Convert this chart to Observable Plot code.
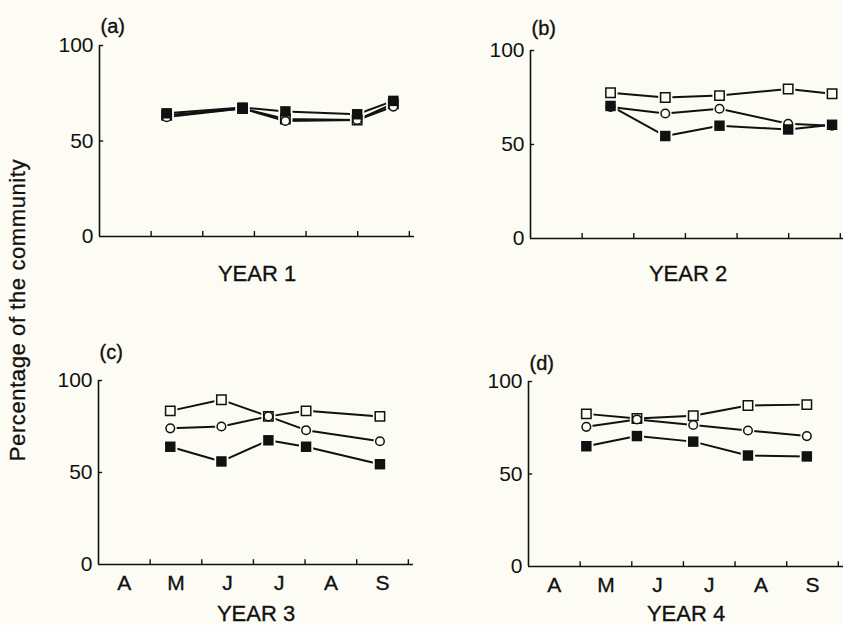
<!DOCTYPE html>
<html>
<head>
<meta charset="utf-8">
<script src="https://cdn.jsdelivr.net/npm/d3@7"></script>
<script src="https://cdn.jsdelivr.net/npm/@observablehq/plot@0.6"></script>
<style>
  html, body { margin: 0; padding: 0; background: #fcfcf4; }
  #fig { position: relative; width: 843px; height: 625px; overflow: hidden; background: #fcfcf4;
         font-family: "Liberation Sans", Arial, Helvetica, sans-serif; color: #111; }
  .panel { position: absolute; }
  #ylab { position: absolute; left: 18px; top: 310px; transform: translate(-50%, -50%) rotate(-90deg);
          white-space: nowrap; font-size: 22px; letter-spacing: 0.6px; -webkit-text-stroke: 0.3px #111; }
</style>
</head>
<body>
<div id="fig">
  <div id="ylab">Percentage of the community</div>
</div>
<script>
// ---- data ----
const months = ["A", "M", "J", "J", "A", "S"];
const monthTicks = [1, 2, 3, 4, 5, 6];
const yTicks = [0, 50, 100];
const panelLetters = ["(a)", "(b)", "(c)", "(d)"];
const yearLabels = ["YEAR 1", "YEAR 2", "YEAR 3", "YEAR 4"];

// sampling dates, in months after 1 April
const dates1 = [1.30, 2.77, 3.60, 4.99, 5.69];
const dates2 = [1.55, 2.61, 3.66, 4.99, 5.84];
const dates3 = [1.39, 2.38, 3.29, 4.02, 5.45];
const dates4 = [1.12, 2.10, 3.19, 4.25, 5.39];

// open squares
const open1 = [63.5, 67, 61.5, 61, 69.5];
const open2 = [77.5, 75, 76, 79.5, 77];
const open3 = [83.5, 89.5, 80.5, 83.5, 80.5];
const open4 = [82.5, 80, 81.5, 87, 87.5];
// open circles
const circ1 = [62.5, 67, 60.5, 61, 68];
const circ2 = [70, 66.5, 69, 61, 60];
const circ3 = [74, 75, 80.5, 73, 67];
const circ4 = [75.5, 79.5, 76.5, 73.5, 70.5];
// filled squares
const fill1 = [64.5, 67.5, 65.5, 64, 71];
const fill2 = [70.5, 54.5, 60, 58, 60.5];
const fill3 = [64, 56, 67.5, 64, 54.5];
const fill4 = [65, 70.5, 67.5, 60, 59.5];

const BG = "#fcfcf4";
const INK = "#111";
const FONT = "'Liberation Sans', Arial, Helvetica, sans-serif";
const TS = 0.35; // text thickening stroke

const panels = [
  {left: 0,   top: 0,   ml: 99, mt: 45, y0: 236, h: 300, dates: dates1, open: open1, circ: circ1, fill: fill1, months: false, letterDy: -19, yearDy: 37},
  {left: 431, top: 0,   ml: 99, mt: 50, y0: 238, h: 300, dates: dates2, open: open2, circ: circ2, fill: fill2, months: false, letterDy: -22, yearDy: 35},
  {left: 0,   top: 300, ml: 98, mt: 80, y0: 264, h: 325, dates: dates3, open: open3, circ: circ3, fill: fill3, months: true,  letterDy: -28, yearDy: 49},
  {left: 431, top: 300, ml: 97, mt: 81, y0: 266, h: 325, dates: dates4, open: open4, circ: circ4, fill: fill4, months: true,  letterDy: -18, yearDy: 47}
];

const fig = document.getElementById("fig");

panels.forEach((p, k) => {
  const rows = [];
  p.dates.forEach((d, i) => {
    rows.push({x: d, v: p.open[i], s: "open"});
    rows.push({x: d, v: p.circ[i], s: "circ"});
    rows.push({x: d, v: p.fill[i], s: "fill"});
  });
  const sq = rows.filter(r => r.s !== "circ");
  const ci = rows.filter(r => r.s === "circ");
  const W = 424;
  const mb = p.h - p.y0;
  const txt = {fill: INK, stroke: INK, strokeWidth: TS};
  const marks = [
    Plot.ruleY([0], {stroke: INK, strokeWidth: 1.6}),
    Plot.ruleX([0], {stroke: INK, strokeWidth: 1.6}),
    Plot.ruleX(monthTicks, {y1: 0, y2: 2.6, stroke: INK, strokeWidth: 1.4}),
    Plot.ruleY([50, 100], {x1: 0, x2: 0.08, stroke: INK, strokeWidth: 1.4}),
    Plot.axisY({ticks: yTicks, tickSize: 0, tickPadding: 6, fontSize: 21, label: null, ...txt}),
    Plot.line(rows, {x: "x", y: "v", z: "s", stroke: INK, strokeWidth: 2}),
    // halos (gap between lines and markers)
    Plot.dot(sq, {x: "x", y: "v", symbol: "square", r: 8, fill: BG, stroke: "none"}),
    Plot.dot(ci, {x: "x", y: "v", symbol: "circle", r: 6.4, fill: BG, stroke: "none"}),
    // markers
    Plot.dot(rows.filter(r => r.s === "open"), {x: "x", y: "v", symbol: "square", r: 5.3, fill: BG, stroke: INK, strokeWidth: 1.5}),
    Plot.dot(ci, {x: "x", y: "v", symbol: "circle", r: 4.3, fill: BG, stroke: INK, strokeWidth: 1.5}),
    Plot.dot(rows.filter(r => r.s === "fill"), {x: "x", y: "v", symbol: "square", r: 5.9, fill: INK, stroke: "none"}),
    // labels
    Plot.text([panelLetters[k]], {frameAnchor: "top-left", dx: 1, dy: p.letterDy, textAnchor: "start", lineAnchor: "middle", fontSize: 20, ...txt}),
    Plot.text([yearLabels[k]], {frameAnchor: "bottom", dy: p.yearDy, lineAnchor: "middle", fontSize: 22, ...txt})
  ];
  if (p.months) {
    marks.push(Plot.text(months, {x: (d, i) => i + 0.5, frameAnchor: "bottom", dy: 19, lineAnchor: "middle", fontSize: 21, ...txt}));
  }
  const chart = Plot.plot({
    width: W,
    height: p.h,
    marginLeft: p.ml,
    marginRight: W - p.ml - 315,
    marginTop: p.mt,
    marginBottom: mb,
    x: {domain: [0, 6.1], axis: null},
    y: {domain: [0, 100], axis: null},
    style: {background: "transparent", fontFamily: FONT, color: INK, overflow: "visible"},
    marks
  });
  chart.classList.add("panel");
  chart.style.left = p.left + "px";
  chart.style.top = p.top + "px";
  chart.style.position = "absolute";
  fig.appendChild(chart);
});
</script>
</body>
</html>
